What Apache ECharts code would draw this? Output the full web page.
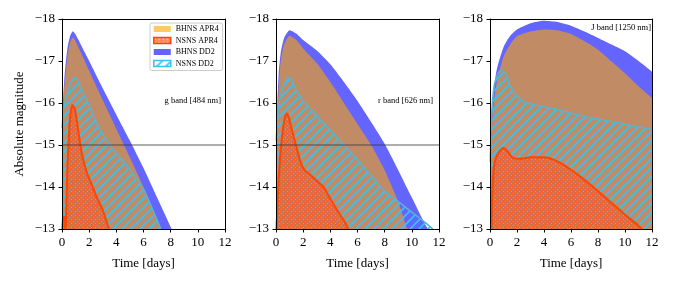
<!DOCTYPE html>
<html><head><meta charset="utf-8">
<script src="https://cdn.jsdelivr.net/npm/echarts@6/dist/echarts.min.js"></script>
<style>html,body{margin:0;padding:0;background:#fff;}#c{width:673px;height:285px;}</style>
</head><body><div id="c"></div>
<script>
// ---------------- data (time in days, absolute magnitude) ----------------
const xTicks = [0, 2, 4, 6, 8, 10, 12];
const yTicks = [-18, -17, -16, -15, -14, -13];
const seriesNames = ['BHNS APR4', 'NSNS APR4', 'BHNS DD2', 'NSNS DD2'];
const bandLabels = ['g band [484 nm]', 'r band [626 nm]', 'J band [1250 nm]'];

// g band
const g_bhnsDD2_t = [0.02,0.1,0.2,0.4,0.6,0.8,1,2,3,4,5,6,7,8,8.2];
const g_bhnsDD2_m = [-15.6,-16.2,-16.7,-17.3,-17.6,-17.71,-17.63,-17.0,-16.35,-15.72,-15.1,-14.45,-13.75,-13.05,-12.9];
const g_bhnsAPR4_t = [0.02,0.1,0.2,0.4,0.6,0.8,1,2,3,4,5,6,7,7.4];
const g_bhnsAPR4_m = [-15.5,-16.0,-16.5,-17.1,-17.45,-17.56,-17.47,-16.77,-16.07,-15.38,-14.7,-14.0,-13.22,-12.9];
const g_nsnsDD2_t = [0.02,0.1,0.3,0.6,0.9,1.1,1.4,2,2.5,3,3.5,4,5,6,7,7.4];
const g_nsnsDD2_m = [-15.4,-15.85,-16.1,-16.45,-16.6,-16.58,-16.35,-15.95,-15.55,-15.25,-15.0,-14.8,-14.42,-13.95,-13.22,-12.9];
const g_nsnsAPR4_t = [0.02,0.07,0.17,0.25,0.3,0.4,0.55,0.65,0.76,0.95,1.15,1.35,1.57,1.84,2.2,2.5,3.0,3.5];
const g_nsnsAPR4_m = [-12.9,-13.3,-13.28,-12.95,-13.2,-14.5,-15.45,-15.8,-15.95,-15.85,-15.45,-15.0,-14.64,-14.33,-14.05,-13.8,-13.45,-12.95];

// r band
const r_bhnsDD2_t = [0.02,0.1,0.2,0.35,0.6,1.0,1.5,2,3,4,5,6,7,8,9,10,11,11.4];
const r_bhnsDD2_m = [-14.8,-16.0,-16.7,-17.2,-17.55,-17.73,-17.65,-17.5,-17.25,-16.92,-16.5,-16.05,-15.55,-15.03,-14.4,-13.75,-13.1,-12.9];
const r_bhnsAPR4_t = [0.02,0.1,0.2,0.35,0.6,1.0,1.5,2,3,4,5,6,7,8,9,9.7];
const r_bhnsAPR4_m = [-14.5,-15.6,-16.4,-17.0,-17.4,-17.6,-17.5,-17.3,-16.95,-16.5,-16.0,-15.5,-15.0,-14.4,-13.65,-12.95];
const r_nsnsDD2_t = [0.02,0.1,0.3,0.6,0.9,1.1,1.5,2,3,4,5,6,7,8,9,10,11,11.7];
const r_nsnsDD2_m = [-15.1,-15.6,-16.1,-16.45,-16.6,-16.58,-16.3,-16.05,-15.7,-15.35,-15.0,-14.65,-14.28,-13.9,-13.65,-13.4,-13.15,-12.95];
const r_nsnsAPR4_t = [0.02,0.1,0.2,0.35,0.5,0.65,0.8,0.95,1.1,1.3,1.55,1.8,2.1,2.5,3,3.5,4,4.5,5,5.4];
const r_nsnsAPR4_m = [-12.9,-13.5,-14.2,-14.9,-15.35,-15.65,-15.75,-15.65,-15.45,-15.2,-14.9,-14.6,-14.4,-14.3,-14.15,-14.0,-13.72,-13.45,-13.2,-12.95];

// J band
const J_bhnsDD2_t = [0.02,0.1,0.25,0.5,1,1.5,2,3,4,5,6,7,8,9,10,11,12];
const J_bhnsDD2_m = [-15.0,-15.4,-16.2,-16.8,-17.33,-17.6,-17.75,-17.9,-17.96,-17.93,-17.84,-17.7,-17.55,-17.39,-17.23,-17.0,-16.75];
const J_bhnsAPR4_t = [0.02,0.1,0.25,0.5,1,1.5,2,3,4,5,6,7,8,9,10,11,12];
const J_bhnsAPR4_m = [-14.8,-15.2,-15.9,-16.5,-17.1,-17.4,-17.59,-17.7,-17.75,-17.73,-17.64,-17.47,-17.27,-16.99,-16.71,-16.4,-16.12];
const J_nsnsDD2_t = [0.02,0.1,0.3,0.6,0.9,1.2,1.5,2,2.5,3,5,7,9,10.5,12];
const J_nsnsDD2_m = [-14.6,-15.6,-16.4,-16.72,-16.78,-16.67,-16.4,-16.16,-16.04,-15.98,-15.84,-15.68,-15.56,-15.46,-15.37];
const J_nsnsAPR4_t = [0.1,0.14,0.2,0.3,0.45,0.7,1.0,1.3,1.6,2,2.5,3,4,5,6,7,8,9,10,11,11.4];
const J_nsnsAPR4_m = [-12.9,-13.5,-14.1,-14.5,-14.7,-14.85,-14.93,-14.85,-14.72,-14.67,-14.68,-14.71,-14.71,-14.61,-14.41,-14.17,-13.9,-13.62,-13.34,-13.08,-12.95];

const refLevel = -15; // horizontal reference line (g and r panels)

// ---------------- styling ----------------
const FONT = 'Liberation Serif';
const BLUE = '#6464ff';
const ORANGE_A = 'rgba(255,165,0,0.6)';
const CYAN = '#33c3f5';
const CYAN_EDGE = '#5ab4cc';
const RED = '#ff4500';

function hatchCanvas(bg) {
  const s = 9, c = document.createElement('canvas');
  c.width = s; c.height = s;
  const ctx = c.getContext('2d');
  if (bg) { ctx.fillStyle = bg; ctx.fillRect(0, 0, s, s); }
  ctx.strokeStyle = CYAN; ctx.lineWidth = 1.7;
  ctx.beginPath();
  ctx.moveTo(-1, s + 1); ctx.lineTo(s + 1, -1);
  ctx.moveTo(-1, 1); ctx.lineTo(1, -1);
  ctx.moveTo(s - 1, s + 1); ctx.lineTo(s + 1, s - 1);
  ctx.stroke();
  return c;
}
function dotCanvas(bg) {
  const s = 4, c = document.createElement('canvas');
  c.width = s; c.height = s;
  const ctx = c.getContext('2d');
  if (bg) { ctx.fillStyle = bg; ctx.fillRect(0, 0, s, s); }
  ctx.fillStyle = 'rgba(255,85,25,0.72)';
  ctx.fillRect(0, 0, s, s);
  ctx.globalCompositeOperation = 'destination-out';
  ctx.fillStyle = 'rgba(0,0,0,0.8)';
  ctx.beginPath(); ctx.arc(1.5, 1.5, 0.9, 0, Math.PI * 2); ctx.fill();
  ctx.globalCompositeOperation = 'source-over';
  ctx.fillStyle = 'rgba(255,170,130,0.6)';
  ctx.fillRect(3, 3, 1, 1);
  return c;
}
const hatchFill = { image: hatchCanvas(null), repeat: 'repeat' };
const hatchLegend = { image: hatchCanvas('#ffffff'), repeat: 'repeat' };
const dotFill = { image: dotCanvas(null), repeat: 'repeat' };
const dotLegend = { image: dotCanvas('#ffffff'), repeat: 'repeat' };

const minus = v => (v < 0 ? '\u2212' : '') + Math.abs(v);

const lefts = [62, 276, 490];
const widths = [163, 163, 162];
const TOP = 19, HEIGHT = 210;

const grids = [], xAxes = [], yAxes = [], series = [];
const panels = [
  { b4: [g_bhnsAPR4_t, g_bhnsAPR4_m], n4: [g_nsnsAPR4_t, g_nsnsAPR4_m], bd: [g_bhnsDD2_t, g_bhnsDD2_m], nd: [g_nsnsDD2_t, g_nsnsDD2_m], ref: true },
  { b4: [r_bhnsAPR4_t, r_bhnsAPR4_m], n4: [r_nsnsAPR4_t, r_nsnsAPR4_m], bd: [r_bhnsDD2_t, r_bhnsDD2_m], nd: [r_nsnsDD2_t, r_nsnsDD2_m], ref: true },
  { b4: [J_bhnsAPR4_t, J_bhnsAPR4_m], n4: [J_nsnsAPR4_t, J_nsnsAPR4_m], bd: [J_bhnsDD2_t, J_bhnsDD2_m], nd: [J_nsnsDD2_t, J_nsnsDD2_m], ref: false }
];
const zip = (t, m) => t.map((v, k) => [v, m[k]]);

panels.forEach((p, i) => {
  grids.push({ left: lefts[i], top: TOP, width: widths[i], height: HEIGHT, containLabel: false });
  xAxes.push({
    type: 'value', gridIndex: i, min: 0, max: 12, interval: 2, position: 'bottom', z: 10,
    axisLine: { show: true, onZero: false, lineStyle: { color: '#000', width: 1 } },
    axisTick: { show: true, length: 3.5, lineStyle: { color: '#000' } },
    axisLabel: { show: true, margin: 7, color: '#000', fontFamily: FONT, fontSize: 13 },
    splitLine: { show: false },
    name: 'Time [days]', nameLocation: 'middle', nameGap: 28,
    nameTextStyle: { color: '#000', fontFamily: FONT, fontSize: 13 }
  });
  yAxes.push({
    type: 'value', gridIndex: i, min: -18, max: -13, interval: 1, inverse: true, position: 'left', z: 10,
    axisLine: { show: true, onZero: false, lineStyle: { color: '#000', width: 1 } },
    axisTick: { show: true, length: 3.5, lineStyle: { color: '#000' } },
    axisLabel: { show: true, margin: 7, color: '#000', fontFamily: FONT, fontSize: 13, formatter: minus },
    splitLine: { show: false },
    name: i === 0 ? 'Absolute magnitude' : '', nameLocation: 'middle', nameGap: 36,
    nameTextStyle: { color: '#000', fontFamily: FONT, fontSize: 13 }
  });
});
// frame: top and right spines
panels.forEach((p, i) => {
  xAxes.push({
    type: 'value', gridIndex: i, min: 0, max: 12, position: 'top', z: 10,
    axisLine: { show: true, onZero: false, lineStyle: { color: '#000', width: 1 } },
    axisTick: { show: false }, axisLabel: { show: false }, splitLine: { show: false }
  });
  yAxes.push({
    type: 'value', gridIndex: i, min: -18, max: -13, inverse: true, position: 'right', z: 10,
    axisLine: { show: true, onZero: false, lineStyle: { color: '#000', width: 1 } },
    axisTick: { show: false }, axisLabel: { show: false }, splitLine: { show: false }
  });
});

function area(name, i, tm, fill, line, z) {
  return {
    type: 'line', name, xAxisIndex: i, yAxisIndex: i, data: zip(tm[0], tm[1]),
    symbol: 'none', showSymbol: false, smooth: 0.2, silent: true, animation: false, clip: true, z,
    lineStyle: line || { width: 0 },
    areaStyle: { color: fill, opacity: 1 }
  };
}

panels.forEach((p, i) => {
  series.push(area('BHNS DD2', i, p.bd, BLUE, null, 2));
  series.push(area('BHNS APR4', i, p.b4, ORANGE_A, null, 3));
  series.push(area('NSNS DD2', i, p.nd, hatchFill, { color: CYAN_EDGE, width: 1.5 }, 4));
  series.push(area('NSNS APR4', i, p.n4, dotFill, { color: RED, width: 2 }, 5));
  if (p.ref) {
    series.push({
      type: 'line', name: 'ref', xAxisIndex: i, yAxisIndex: i, data: [[0, refLevel], [12, refLevel]],
      symbol: 'none', silent: true, animation: false, z: 6,
      lineStyle: { color: 'rgba(60,60,60,0.55)', width: 1.6 }
    });
  }
});

const option = {
  animation: false,
  backgroundColor: '#fff',
  grid: grids, xAxis: xAxes, yAxis: yAxes, series,
  legend: {
    left: 150, top: 23, orient: 'vertical', itemWidth: 17, itemHeight: 6, itemGap: 3.5,
    padding: [2, 4, 3, 3], borderColor: '#cccccc', borderWidth: 1, borderRadius: 2,
    backgroundColor: 'rgba(255,255,255,0.85)', selectedMode: false, z: 20,
    textStyle: { fontFamily: FONT, fontSize: 8, color: '#000' },
    data: [
      { name: seriesNames[0], icon: 'rect', itemStyle: { color: ORANGE_A, borderWidth: 0 } },
      { name: seriesNames[1], icon: 'rect', itemStyle: { color: dotLegend, borderColor: RED, borderWidth: 1.5 } },
      { name: seriesNames[2], icon: 'rect', itemStyle: { color: BLUE, borderWidth: 0 } },
      { name: seriesNames[3], icon: 'rect', itemStyle: { color: hatchLegend, borderColor: CYAN, borderWidth: 1.5 } }
    ]
  },
  graphic: [
    { type: 'text', right: 673 - 221, top: 96, z: 20, silent: true,
      style: { text: bandLabels[0], fontFamily: FONT, fontSize: 8.5, fill: '#000' } },
    { type: 'text', right: 673 - 433, top: 96, z: 20, silent: true,
      style: { text: bandLabels[1], fontFamily: FONT, fontSize: 8.5, fill: '#000' } },
    { type: 'text', right: 673 - 651, top: 23, z: 20, silent: true,
      style: { text: bandLabels[2], fontFamily: FONT, fontSize: 8.5, fill: '#000' } }
  ]
};
const chart = echarts.init(document.getElementById('c'), null, { renderer: 'canvas' });
chart.setOption(option);
</script></body></html>
